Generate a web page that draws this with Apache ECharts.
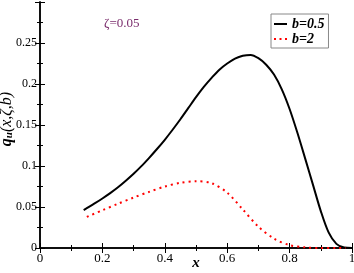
<!DOCTYPE html>
<html><head><meta charset="utf-8">
<script src="https://cdn.jsdelivr.net/npm/echarts@6/dist/echarts.min.js"></script>
<style>html,body{margin:0;padding:0;background:#fff}#c{width:354px;height:273px}</style>
</head><body><div id="c"></div>
<script>
const xBlack = [0.14,0.175,0.2,0.225,0.25,0.275,0.3,0.325,0.35,0.375,0.4,0.425,0.45,0.475,0.5,0.525,0.55,0.575,0.6,0.625,0.65,0.675,0.7,0.725,0.75,0.775,0.8,0.825,0.85,0.875,0.9,0.925,0.95,0.975,1.0];
const yBlack = [0.0463,0.0543,0.0604,0.0669,0.074,0.082,0.0905,0.0998,0.110,0.1207,0.132,0.1442,0.157,0.1705,0.184,0.1965,0.2075,0.2175,0.2250,0.2310,0.2345,0.2355,0.2315,0.2235,0.2115,0.1935,0.1695,0.1405,0.109,0.077,0.045,0.019,0.005,0.0005,0.0];
const xRed = [0.15,0.2,0.25,0.3,0.35,0.4,0.45,0.5,0.55,0.6,0.65,0.7,0.75,0.8,0.85,0.9,0.95,0.98];
const yRed = [0.038,0.046,0.054,0.0615,0.0685,0.075,0.0795,0.0815,0.079,0.0675,0.047,0.026,0.0115,0.0035,0.0008,0.0,0.0,0.0];
const seriesNames = ['b=0.5','b=2'];
const annotation = 'ζ=0.05';

const serif = '"Liberation Serif", "Times New Roman", Times, serif';
const chart = echarts.init(document.getElementById('c'));
const pair = (xs, ys) => xs.map((x,i)=>[x, ys[i]]);
const axisCommon = {
  axisLine:{show:true,lineStyle:{color:'#000',width:1.5}},
  axisTick:{show:true,inside:true,length:5,lineStyle:{color:'#000',width:1}},
  minorTick:{show:true,splitNumber:2,length:3,lineStyle:{color:'#000',width:1}},
  splitLine:{show:false}
};
chart.setOption({
  animation:false,
  grid:{left:40,right:2,top:2,bottom:25,containLabel:false,outerBoundsMode:'none'},
  xAxis:[
    Object.assign({type:'value',min:0,max:1,interval:0.2,position:'bottom',
      axisLabel:{color:'#000',fontFamily:serif,fontSize:13,margin:4},
      name:'x',nameLocation:'middle',nameGap:8,nameMoveOverlap:false,
      nameTextStyle:{fontFamily:serif,fontStyle:'italic',fontWeight:'bold',fontSize:15,color:'#000'}},axisCommon),
    Object.assign({type:'value',min:0,max:1,interval:0.2,position:'top',axisLabel:{show:false}},axisCommon)
  ],
  yAxis:[
    Object.assign({type:'value',min:0,max:0.3,interval:0.05,position:'left',
      axisLabel:{color:'#000',fontFamily:serif,fontSize:12,margin:3,showMaxLabel:false,
        formatter:v=>String(+v.toFixed(2))},
      name:'{q|q}{u|u}{p|(x,ζ,b)}',nameLocation:'middle',nameGap:25,nameRotate:90,nameMoveOverlap:false,
      nameTextStyle:{color:'#000',padding:[0,0,0,12],rich:{
        q:{fontFamily:serif,fontStyle:'italic',fontWeight:'bold',fontSize:16,color:'#000'},
        u:{fontFamily:serif,fontStyle:'italic',fontWeight:'bold',fontSize:11,color:'#000',verticalAlign:'bottom',padding:[6,0,0,0]},
        p:{fontFamily:serif,fontStyle:'italic',fontSize:16,color:'#000'}}}},axisCommon),
    Object.assign({type:'value',min:0,max:0.3,interval:0.05,position:'right',axisLabel:{show:false}},axisCommon)
  ],
  legend:{
    left:271,top:14,orient:'vertical',itemGap:1,itemWidth:13,itemHeight:8,symbolKeepAspect:true,
    padding:[3,4,2,3],borderColor:'#888',borderWidth:1,backgroundColor:'#fff',
    textStyle:{fontFamily:serif,fontStyle:'italic',fontWeight:'bold',fontSize:14,color:'#000'},
    data:[
      {name:seriesNames[0],icon:'path://M0,0h13v2h-13z'},
      {name:seriesNames[1],icon:'path://M0,0h2v2h-2z M5.5,0h2v2h-2z M11,0h2v2h-2z'}
    ]
  },
  graphic:[{type:'text',left:104,top:17,style:{text:annotation,fontFamily:serif,fontSize:13,fill:'#7a2c6c'}}],
  series:[
    {name:seriesNames[0],type:'line',data:pair(xBlack,yBlack),smooth:0.3,symbol:'none',showSymbol:false,
      lineStyle:{color:'#000',width:2},itemStyle:{color:'#000'}},
    {name:seriesNames[1],type:'line',data:pair(xRed,yRed),smooth:0.3,symbol:'none',showSymbol:false,
      lineStyle:{color:'#ff0000',width:2,type:[2,4]},itemStyle:{color:'#ff0000'}}
  ]
});
</script></body></html>
